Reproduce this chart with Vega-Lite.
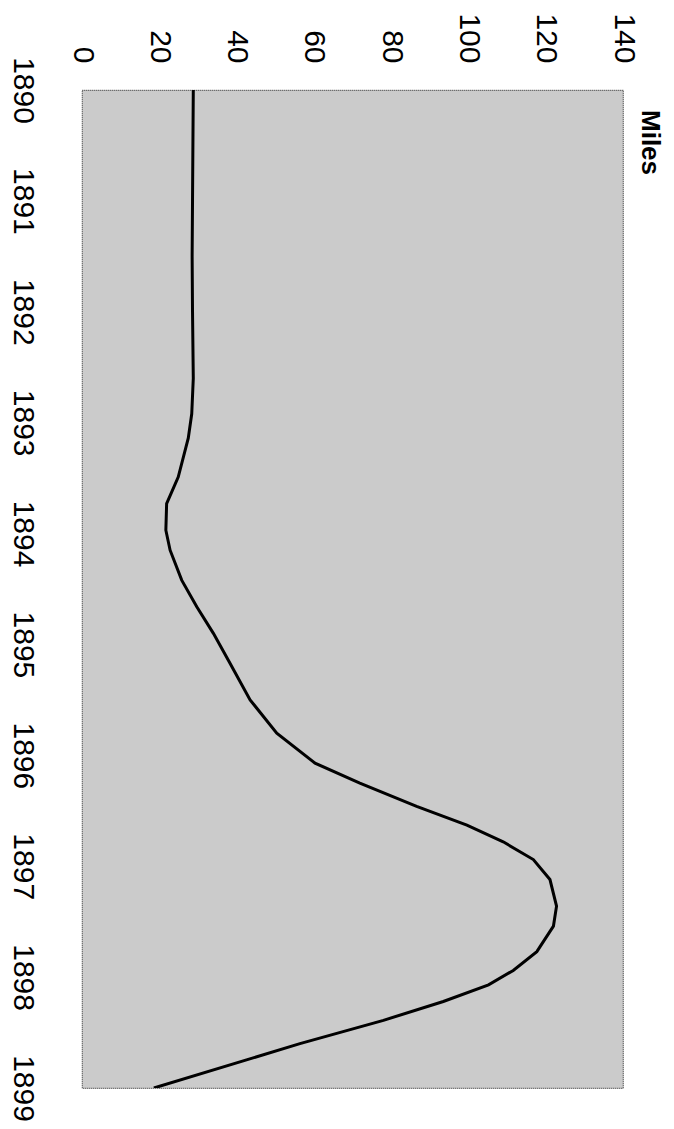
{
  "$schema": "https://vega.github.io/schema/vega-lite/v6.json",
  "width": 541,
  "height": 998,
  "autosize": {"type": "none"},
  "padding": {"left": 82, "top": 90, "right": 51, "bottom": 41},
  "background": "white",
  "title": {
    "text": "Miles",
    "orient": "right",
    "anchor": "start",
    "frame": "group",
    "angle": 90,
    "font": "Liberation Sans",
    "fontSize": 26,
    "fontWeight": "bold",
    "color": "black",
    "offset": -1,
    "dx": 20
  },
  "config": {
    "view": {"fill": "#cbcbcb", "stroke": "#444444", "strokeWidth": 1.2, "strokeDash": [1, 1]},
    "axis": {
      "labelFont": "Liberation Sans",
      "labelFontSize": 30,
      "labelColor": "black",
      "domain": false,
      "ticks": false,
      "grid": false,
      "title": null
    }
  },
  "data": {
    "values": [
      {"year": 1890.0, "miles": 28.8},
      {"year": 1891.0, "miles": 28.6},
      {"year": 1891.5, "miles": 28.5},
      {"year": 1892.0, "miles": 28.6},
      {"year": 1892.6, "miles": 28.8},
      {"year": 1892.92, "miles": 28.4},
      {"year": 1893.14, "miles": 27.5},
      {"year": 1893.49, "miles": 24.9},
      {"year": 1893.73, "miles": 21.9},
      {"year": 1893.97, "miles": 21.7},
      {"year": 1894.15, "miles": 22.8},
      {"year": 1894.42, "miles": 25.8},
      {"year": 1894.66, "miles": 29.7},
      {"year": 1894.9, "miles": 34.0},
      {"year": 1895.17, "miles": 38.3},
      {"year": 1895.5, "miles": 43.5},
      {"year": 1895.8, "miles": 50.4},
      {"year": 1896.07, "miles": 60.3},
      {"year": 1896.25, "miles": 71.9},
      {"year": 1896.46, "miles": 86.6},
      {"year": 1896.63, "miles": 99.6},
      {"year": 1896.78, "miles": 109.0},
      {"year": 1896.94, "miles": 116.8},
      {"year": 1897.12, "miles": 121.1},
      {"year": 1897.36, "miles": 122.8},
      {"year": 1897.54, "miles": 122.0},
      {"year": 1897.77, "miles": 117.7},
      {"year": 1897.94, "miles": 111.6},
      {"year": 1898.07, "miles": 105.2},
      {"year": 1898.22, "miles": 93.5},
      {"year": 1898.39, "miles": 78.0},
      {"year": 1898.6, "miles": 56.4},
      {"year": 1899.0, "miles": 18.6}
    ]
  },
  "mark": {"type": "line", "color": "black", "strokeWidth": 3, "clip": true},
  "encoding": {
    "x": {
      "field": "miles",
      "type": "quantitative",
      "scale": {"domain": [0, 140], "nice": false, "zero": true},
      "axis": {
        "orient": "top",
        "values": [0, 20, 40, 60, 80, 100, 120, 140],
        "labelAngle": 90,
        "labelAlign": "right",
        "labelBaseline": "middle",
        "labelPadding": 27,
        "labelFlush": false,
        "labelOverlap": false
      }
    },
    "y": {
      "field": "year",
      "type": "quantitative",
      "scale": {"domain": [1890, 1899], "reverse": true, "nice": false, "zero": false},
      "axis": {
        "values": [1890, 1891, 1892, 1893, 1894, 1895, 1896, 1897, 1898, 1899],
        "format": "d",
        "labelAngle": 90,
        "labelAlign": "center",
        "labelBaseline": "top",
        "labelPadding": 45,
        "labelFlush": false,
        "labelOverlap": false
      }
    },
    "order": {"field": "year", "type": "quantitative"}
  }
}
